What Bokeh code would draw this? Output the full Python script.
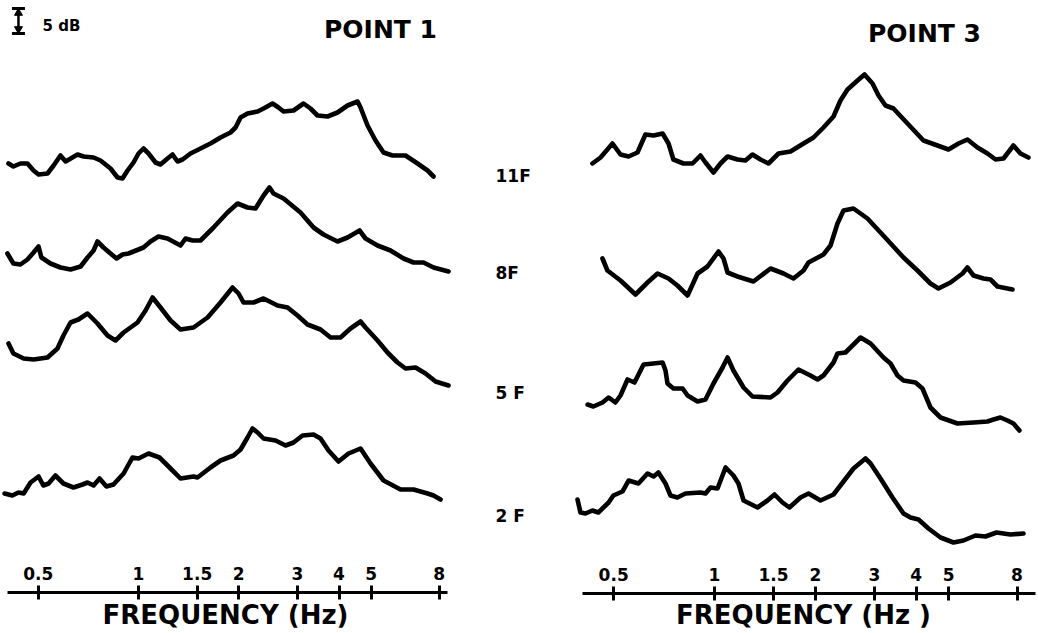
from bokeh.plotting import figure
from bokeh.layouts import row
from bokeh.models import LogAxis, FixedTicker, Range1d, Label
from bokeh.embed import file_html
from bokeh.resources import INLINE

# ---- axis ticks -------------------------------------------------------
FREQ_TICKS = [0.5, 1, 1.5, 2, 3, 4, 5, 8]
TICK_LABELS = ["0.5", "1", "1.5", "2", "3", "4", "5", "8"]
FLOOR_LABELS = ["11F", "8F", "5 F", "2 F"]

# ---- POINT 1 spectra: frequency (Hz) / relative level (dB) -------------
P1_11F_HZ = [0.407, 0.421, 0.442, 0.464, 0.484, 0.501, 0.533, 0.556, 0.583, 0.604,
             0.656, 0.684, 0.733, 0.769, 0.824, 0.865, 0.895, 0.927, 0.966, 1.0,
             1.035, 1.072, 1.125, 1.164, 1.222, 1.265, 1.310, 1.356, 1.433, 1.535,
             1.645, 1.763, 1.889, 1.956, 2.025, 2.125, 2.278, 2.374, 2.526, 2.633,
             2.726, 2.921, 3.130, 3.285, 3.448, 3.695, 3.959, 4.243, 4.548, 4.642,
             4.872, 5.149, 5.442, 5.791, 6.336, 6.884, 7.378, 7.690]
P1_11F_DB = [3.4, 2.8, 3.4, 3.4, 2.0, 1.2, 1.4, 3.0, 5.0, 3.8,
             5.2, 4.8, 4.6, 4.0, 2.4, 0.6, 0.4, 2.0, 3.6, 5.4,
             6.4, 5.4, 3.6, 3.2, 4.4, 5.2, 3.8, 4.2, 5.4, 6.4,
             7.4, 8.6, 9.6, 10.6, 12.6, 13.4, 13.8, 14.4, 15.4, 14.6,
             13.8, 14.0, 15.4, 14.4, 13.0, 12.8, 13.6, 15.0, 15.8, 14.6,
             11.0, 8.0, 5.6, 5.0, 5.0, 3.4, 2.0, 0.8]

P1_8F_HZ = [0.404, 0.421, 0.442, 0.464, 0.484, 0.501, 0.511, 0.544, 0.583, 0.625,
            0.670, 0.703, 0.733, 0.753, 0.785, 0.824, 0.859, 0.895, 0.933, 1.035,
            1.086, 1.148, 1.222, 1.337, 1.384, 1.453, 1.535, 1.680, 1.850, 1.983,
            2.125, 2.246, 2.374, 2.474, 2.543, 2.726, 3.065, 3.354, 3.593, 3.959,
            4.243, 4.610, 4.805, 5.221, 5.711, 6.249, 6.696, 7.177, 7.690, 8.529]
P1_8F_DB = [3.4, 1.4, 1.2, 2.2, 3.6, 4.8, 2.6, 1.4, 0.6, 0.2,
            0.8, 2.6, 4.0, 5.8, 4.6, 3.4, 2.4, 3.2, 3.4, 4.6,
            5.8, 6.8, 6.4, 5.0, 6.4, 6.0, 6.0, 8.6, 11.6, 13.4,
            12.6, 12.4, 15.0, 16.6, 15.4, 14.4, 11.6, 8.6, 7.2, 5.8,
            6.6, 8.0, 6.4, 5.0, 4.0, 2.4, 1.6, 1.6, 0.6, -0.2]

P1_5F_HZ = [0.407, 0.421, 0.452, 0.484, 0.533, 0.571, 0.595, 0.625, 0.660, 0.703,
            0.753, 0.807, 0.853, 0.902, 0.993, 1.050, 1.102, 1.164, 1.248, 1.337,
            1.463, 1.612, 1.763, 1.916, 1.997, 2.067, 2.215, 2.374, 2.615, 2.803,
            3.003, 3.218, 3.520, 3.772, 4.042, 4.331, 4.642, 4.805, 5.221, 5.594,
            5.995, 6.336, 6.789, 7.276, 7.797, 8.529]
P1_5F_DB = [8.4, 6.4, 5.4, 5.2, 5.6, 7.4, 10.0, 12.6, 13.2, 14.4,
            12.4, 10.0, 9.0, 10.6, 12.6, 15.0, 17.6, 15.6, 13.0, 11.2,
            11.6, 13.6, 16.6, 19.6, 18.4, 16.6, 16.6, 17.4, 16.0, 15.6,
            14.0, 12.2, 11.2, 9.6, 9.6, 11.4, 12.8, 11.6, 9.0, 6.6,
            4.6, 3.4, 3.6, 2.4, 0.8, 0.0]

P1_2F_HZ = [0.396, 0.418, 0.436, 0.452, 0.474, 0.501, 0.518, 0.537, 0.563, 0.595,
            0.638, 0.679, 0.703, 0.733, 0.764, 0.801, 0.841, 0.902, 0.959, 1.0,
            1.072, 1.156, 1.248, 1.337, 1.463, 1.504, 1.645, 1.763, 1.929, 2.025,
            2.125, 2.199, 2.278, 2.374, 2.579, 2.764, 2.921, 3.108, 3.354, 3.520,
            3.720, 3.987, 4.272, 4.642, 4.974, 5.442, 6.120, 6.696, 7.378, 7.690,
            8.070]
P1_2F_DB = [1.4, 1.0, 1.6, 1.4, 3.6, 4.8, 3.0, 3.4, 5.0, 3.4,
            2.6, 3.2, 3.6, 3.0, 4.4, 2.8, 3.2, 5.4, 8.6, 8.4,
            9.4, 8.6, 6.4, 4.4, 4.8, 4.6, 6.6, 8.0, 9.0, 10.2,
            12.6, 14.4, 13.6, 12.4, 12.0, 11.0, 11.6, 13.0, 13.2, 12.4,
            10.0, 7.8, 9.4, 10.4, 7.4, 4.0, 2.2, 2.2, 1.4, 1.0,
            0.2]

# ---- POINT 3 spectra: frequency (Hz) / relative level (dB) -------------
P3_11F_HZ = [0.432, 0.457, 0.496, 0.524, 0.554, 0.589, 0.622, 0.658, 0.700, 0.729,
             0.754, 0.808, 0.860, 0.908, 0.940, 0.993, 1.042, 1.094, 1.171, 1.237,
             1.298, 1.372, 1.449, 1.553, 1.686, 1.844, 1.975, 2.115, 2.266, 2.377,
             2.495, 2.673, 2.804, 2.963, 3.088, 3.239, 3.422, 3.768, 4.206, 4.631,
             4.995, 5.351, 5.690, 6.096, 6.531, 6.900, 7.290, 7.806, 8.191, 8.655]
P3_11F_DB = [2.4, 3.6, 6.4, 4.2, 3.8, 4.6, 8.2, 8.0, 8.4, 6.4,
             3.2, 2.4, 2.4, 4.0, 2.6, 0.6, 2.4, 3.8, 3.2, 3.0,
             4.2, 3.2, 2.4, 4.4, 4.8, 6.4, 7.6, 9.6, 11.8, 15.0,
             17.2, 19.0, 20.2, 18.4, 16.0, 14.0, 13.4, 10.4, 7.0, 6.0,
             5.2, 6.4, 7.2, 5.6, 4.4, 3.2, 3.4, 6.0, 4.4, 3.6]

P3_8F_HZ = [0.463, 0.479, 0.524, 0.581, 0.631, 0.676, 0.729, 0.775, 0.831, 0.890,
            0.953, 1.028, 1.064, 1.094, 1.171, 1.307, 1.470, 1.607, 1.721, 1.844,
            1.908, 2.115, 2.220, 2.329, 2.427, 2.600, 2.862, 3.130, 3.399, 3.666,
            4.036, 4.413, 4.663, 5.064, 5.500, 5.690, 5.931, 6.353, 6.667, 6.997,
            7.754]
P3_8F_DB = [7.4, 5.0, 3.0, 0.2, 2.6, 4.4, 3.4, 2.0, 0.0, 4.4,
            5.8, 8.8, 7.4, 4.6, 3.8, 2.8, 5.4, 4.4, 3.4, 5.0,
            6.6, 8.2, 10.0, 14.4, 17.0, 17.4, 15.4, 12.6, 10.0, 7.6,
            5.0, 2.4, 1.4, 2.6, 4.4, 5.6, 4.0, 3.4, 3.2, 1.8,
            1.2]

P3_5F_HZ = [0.418, 0.435, 0.463, 0.483, 0.506, 0.524, 0.550, 0.577, 0.614, 0.658,
            0.700, 0.714, 0.724, 0.754, 0.803, 0.831, 0.890, 0.940, 0.993, 1.057,
            1.094, 1.139, 1.221, 1.298, 1.470, 1.542, 1.652, 1.781, 1.934, 2.030,
            2.115, 2.266, 2.329, 2.460, 2.729, 2.923, 3.195, 3.353, 3.518, 3.666,
            3.981, 4.177, 4.413, 4.727, 5.314, 5.931, 6.531, 6.805, 7.140, 7.492,
            7.806, 8.135]
P3_5F_DB = [4.2, 3.8, 4.6, 5.6, 4.6, 6.0, 9.2, 8.6, 12.2, 12.4,
            12.6, 11.0, 8.4, 7.4, 7.4, 6.0, 4.8, 5.2, 8.4, 11.6,
            13.6, 11.0, 7.6, 5.8, 5.6, 6.6, 9.0, 11.2, 10.0, 9.2,
            10.0, 12.6, 14.4, 14.6, 17.6, 16.4, 13.6, 12.4, 10.0, 9.0,
            8.6, 7.4, 3.6, 1.6, 0.4, 0.6, 0.8, 1.2, 1.6, 1.0,
            0.4, -1.0]

P3_2F_HZ = [0.390, 0.398, 0.412, 0.432, 0.450, 0.483, 0.499, 0.531, 0.554, 0.593,
            0.631, 0.658, 0.680, 0.714, 0.739, 0.775, 0.819, 0.908, 0.940, 0.973,
            1.021, 1.079, 1.139, 1.179, 1.221, 1.344, 1.439, 1.511, 1.596, 1.674,
            1.806, 1.908, 2.072, 2.266, 2.427, 2.600, 2.823, 2.923, 3.130, 3.399,
            3.666, 3.847, 4.064, 4.353, 4.727, 5.169, 5.537, 6.013, 6.442, 6.948,
            7.648, 8.363]
P3_2F_DB = [8.2, 5.6, 5.4, 6.0, 5.6, 7.6, 9.0, 9.8, 12.0, 11.4,
            13.4, 12.8, 13.6, 11.4, 9.0, 8.6, 9.4, 9.6, 9.4, 10.6,
            10.4, 14.6, 13.0, 11.4, 8.0, 6.6, 8.0, 9.2, 7.6, 6.6,
            8.6, 9.4, 8.0, 9.2, 11.8, 14.4, 16.4, 15.4, 12.4, 8.6,
            5.4, 4.6, 4.2, 2.4, 0.6, -0.4, 0.0, 1.0, 0.8, 1.6,
            1.2, 1.4]

# ---- layout ------------------------------------------------------------
HEIGHT = 633
DB_SPAN = 126.6                      # vertical extent of each panel in dB
P1_OFFSETS = [-36, -54, -77, -100]   # where each floor's trace sits
P3_OFFSETS = [-35, -59, -85, -108]
FONT = "DejaVu Sans"
INK = "#000000"


def make_panel(width, x_lo, x_hi):
    p = figure(width=width, height=HEIGHT, x_range=Range1d(x_lo, x_hi),
               y_range=Range1d(-DB_SPAN, 0), x_axis_type="log",
               x_axis_location=None, y_axis_location=None,
               output_backend="svg", toolbar_location=None, min_border=0)
    p.outline_line_color = None
    p.background_fill_color = "white"
    p.border_fill_color = "white"
    p.xgrid.visible = False
    p.ygrid.visible = False
    return p


def add_freq_axis(p, y_at, bounds):
    # baseline with short ticks, tick labels printed above it
    ax = LogAxis(ticker=FixedTicker(ticks=FREQ_TICKS, minor_ticks=[]),
                 fixed_location=y_at, bounds=bounds,
                 major_label_overrides=dict(zip(FREQ_TICKS, TICK_LABELS)),
                 axis_line_width=3, axis_line_color=INK,
                 major_tick_line_width=3, major_tick_line_color=INK,
                 major_tick_out=7, major_tick_in=7,
                 minor_tick_out=0, minor_tick_in=0,
                 major_label_standoff=6,
                 major_label_text_font=FONT, major_label_text_font_style="bold",
                 major_label_text_font_size="17px", major_label_text_color=INK)
    p.add_layout(ax, "above")


def add_text(p, x, y_top, text, size, align="center"):
    p.add_layout(Label(x=x, y=HEIGHT - y_top, x_units="screen", y_units="screen",
                       text=text, text_font=FONT, text_font_style="bold",
                       text_font_size=size, text_color=INK,
                       text_align=align, text_baseline="middle"))


def draw_traces(p, traces, offsets):
    for (hz, db), off in zip(traces, offsets):
        p.line(hz, [off + v for v in db], line_width=4.6, line_color=INK,
               line_join="round", line_cap="round")


# POINT 1 panel (also carries the scale bar and the floor labels)
left = make_panel(540, 0.3851, 16.11)
draw_traces(left, [(P1_11F_HZ, P1_11F_DB), (P1_8F_HZ, P1_8F_DB),
                   (P1_5F_HZ, P1_5F_DB), (P1_2F_HZ, P1_2F_DB)], P1_OFFSETS)
add_freq_axis(left, -118.4, (0.404, 8.47))

# 5 dB scale bar
BAR_HZ = 0.436
BAR_TOP, BAR_BOTTOM = -1.6, -6.6
left.segment(x0=[BAR_HZ], y0=[BAR_TOP], x1=[BAR_HZ], y1=[BAR_BOTTOM],
             line_width=2.5, line_color=INK)
left.scatter(x=[BAR_HZ, BAR_HZ], y=[BAR_TOP, BAR_BOTTOM], marker="dash",
             size=13, line_width=3, line_color=INK)
left.scatter(x=[BAR_HZ], y=[BAR_TOP - 0.9], marker="triangle", size=8,
             fill_color=INK, line_color=INK)
left.scatter(x=[BAR_HZ], y=[BAR_BOTTOM + 0.9], marker="inverted_triangle", size=8,
             fill_color=INK, line_color=INK)
add_text(left, 42, 25, "5 dB", "15px", align="left")

add_text(left, 380, 29, "POINT 1", "25px")
add_text(left, 225, 614, "FREQUENCY (Hz)", "26px")
for lbl, y_mid in zip(FLOOR_LABELS, [175, 272, 392, 515]):
    add_text(left, 495, y_mid, lbl, "17px", align="left")

# POINT 3 panel
right = make_panel(498, 0.3024, 9.273)
draw_traces(right, [(P3_11F_HZ, P3_11F_DB), (P3_8F_HZ, P3_8F_DB),
                    (P3_5F_HZ, P3_5F_DB), (P3_2F_HZ, P3_2F_DB)], P3_OFFSETS)
add_freq_axis(right, -118.6, (0.4036, 9.08))
add_text(right, 384, 33, "POINT 3", "25px")
add_text(right, 263, 614, "FREQUENCY (Hz )", "26px")

layout = row(left, right, spacing=0)
open("out.html", "w").write(file_html(layout, INLINE))
